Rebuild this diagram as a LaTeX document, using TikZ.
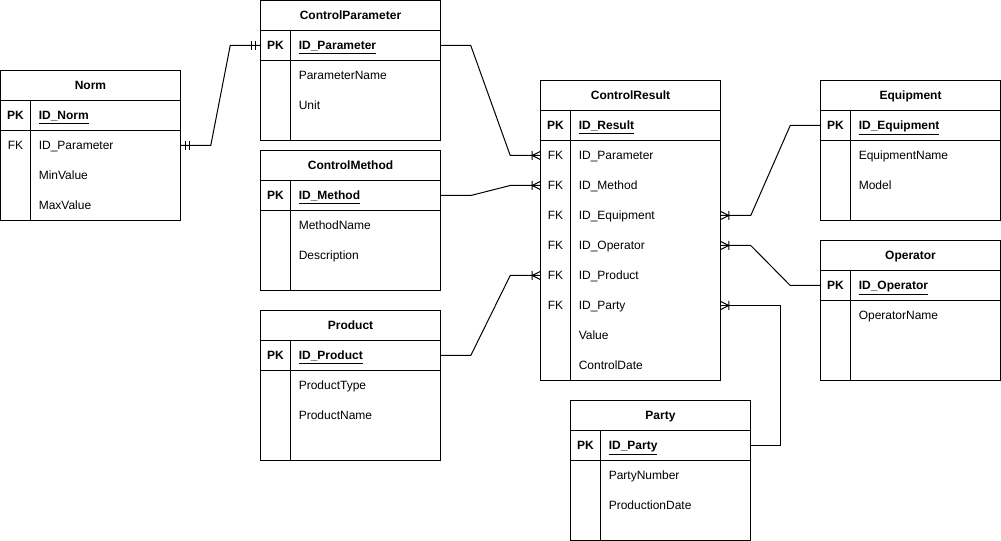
\documentclass[tikz,border=0pt]{standalone}
\usepackage{fontspec}
\setmainfont{Liberation Sans}
\newcommand\erfont{\fontsize{9}{11}\selectfont}
% entity frame: name, x, y, height, title
\newcommand\erentity[5]{%
  \draw[frame] (#2,#3) rectangle ++(180,#4);
  \draw[frame] (#2,#3+30) -- ++(180,0);
  \draw[frame] (#2,#3+60) -- ++(180,0);
  \draw[frame] (#2+30,#3+30) -- (#2+30,#3+#4);
  \node[hdr] (#1) at (#2+90,#3+15) {#5};
}
% primary key row: name, x, y-center, label
\newcommand\erpk[4]{%
  \node[rowbox] (#1) at (#2+90,#3) {};
  \node[keytxt,font=\erfont\bfseries] (#1-k) at (#2+15,#3) {PK};
  \node[fldtxt,font=\erfont\bfseries] (#1-t) at (#2+38,#3) {\underline{#4}};
}
% ordinary row: name, x, y-center, key, label
\newcommand\errow[5]{%
  \node[rowbox] (#1) at (#2+90,#3) {};
  \node[keytxt] (#1-k) at (#2+15,#3) {#4};
  \node[fldtxt] (#1-t) at (#2+38,#3) {#5};
}
\begin{document}
\begin{tikzpicture}[x=0.75pt,y=-0.75pt,
  frame/.style={line width=0.75pt},
  link/.style={line width=0.75pt},
  txt/.style={inner sep=0pt,text height=6.5pt,text depth=0pt},
  hdr/.style={txt,font=\erfont\bfseries},
  rowbox/.style={minimum width=135pt,minimum height=22.5pt,inner sep=0pt},
  keytxt/.style={txt,font=\erfont},
  fldtxt/.style={txt,font=\erfont,anchor=west},
  one/.pic={\draw[line width=0.75pt] (5,-4.5) -- (5,4.5) (9,-4.5) -- (9,4.5);},
  many/.pic={\draw[line width=0.75pt] (0,-4) -- (8,0) -- (0,4) (8,-4.5) -- (8,4.5);}]
\useasboundingbox (-0.5,-0.5) rectangle (1000.5,540.5);

% Norm
\erentity{norm}{0}{70}{150}{Norm}
\erpk{norm-pk}{0}{115}{ID\_Norm}
\errow{norm-par}{0}{145}{FK}{ID\_Parameter}
\errow{norm-min}{0}{175}{}{MinValue}
\errow{norm-max}{0}{205}{}{MaxValue}

% ControlParameter
\erentity{cp}{260}{0}{140}{ControlParameter}
\erpk{cp-pk}{260}{45}{ID\_Parameter}
\errow{cp-name}{260}{75}{}{ParameterName}
\errow{cp-unit}{260}{105}{}{Unit}

% ControlMethod
\erentity{cm}{260}{150}{140}{ControlMethod}
\erpk{cm-pk}{260}{195}{ID\_Method}
\errow{cm-name}{260}{225}{}{MethodName}
\errow{cm-desc}{260}{255}{}{Description}

% Product
\erentity{pr}{260}{310}{150}{Product}
\erpk{pr-pk}{260}{355}{ID\_Product}
\errow{pr-type}{260}{385}{}{ProductType}
\errow{pr-name}{260}{415}{}{ProductName}

% ControlResult
\erentity{cr}{540}{80}{300}{ControlResult}
\erpk{cr-pk}{540}{125}{ID\_Result}
\errow{cr-par}{540}{155}{FK}{ID\_Parameter}
\errow{cr-met}{540}{185}{FK}{ID\_Method}
\errow{cr-eq}{540}{215}{FK}{ID\_Equipment}
\errow{cr-op}{540}{245}{FK}{ID\_Operator}
\errow{cr-prod}{540}{275}{FK}{ID\_Product}
\errow{cr-party}{540}{305}{FK}{ID\_Party}
\errow{cr-val}{540}{335}{}{Value}
\errow{cr-date}{540}{365}{}{ControlDate}

% Equipment
\erentity{eq}{820}{80}{140}{Equipment}
\erpk{eq-pk}{820}{125}{ID\_Equipment}
\errow{eq-name}{820}{155}{}{EquipmentName}
\errow{eq-model}{820}{185}{}{Model}

% Operator
\erentity{op}{820}{240}{140}{Operator}
\erpk{op-pk}{820}{285}{ID\_Operator}
\errow{op-name}{820}{315}{}{OperatorName}

% Party
\erentity{pa}{570}{400}{140}{Party}
\erpk{pa-pk}{570}{445}{ID\_Party}
\errow{pa-num}{570}{475}{}{PartyNumber}
\errow{pa-date}{570}{505}{}{ProductionDate}

% relationships
\draw[link] (norm-par.east) -- ++(30,0) -- ([xshift=-22.5pt]cp-pk.west) -- (cp-pk.west);
\pic at (norm-par.east) {one};
\pic[rotate=180] at (cp-pk.west) {one};

\draw[link] (cp-pk.east) -- ++(30,0) -- ([xshift=-22.5pt]cr-par.west) -- (cr-par.west);
\pic[rotate=180] at (cr-par.west) {many};

\draw[link] (cm-pk.east) -- ++(30,0) -- ([xshift=-22.5pt]cr-met.west) -- (cr-met.west);
\pic[rotate=180] at (cr-met.west) {many};

\draw[link] (pr-pk.east) -- ++(30,0) -- ([xshift=-22.5pt]cr-prod.west) -- (cr-prod.west);
\pic[rotate=180] at (cr-prod.west) {many};

\draw[link] (eq-pk.west) -- ++(-30,0) -- ([xshift=22.5pt]cr-eq.east) -- (cr-eq.east);
\pic at (cr-eq.east) {many};

\draw[link] (op-pk.west) -- ++(-30,0) -- ([xshift=22.5pt]cr-op.east) -- (cr-op.east);
\pic at (cr-op.east) {many};

\draw[link] (pa-pk.east) -- ++(30,0) |- (cr-party.east);
\pic at (cr-party.east) {many};
\end{tikzpicture}
\end{document}
